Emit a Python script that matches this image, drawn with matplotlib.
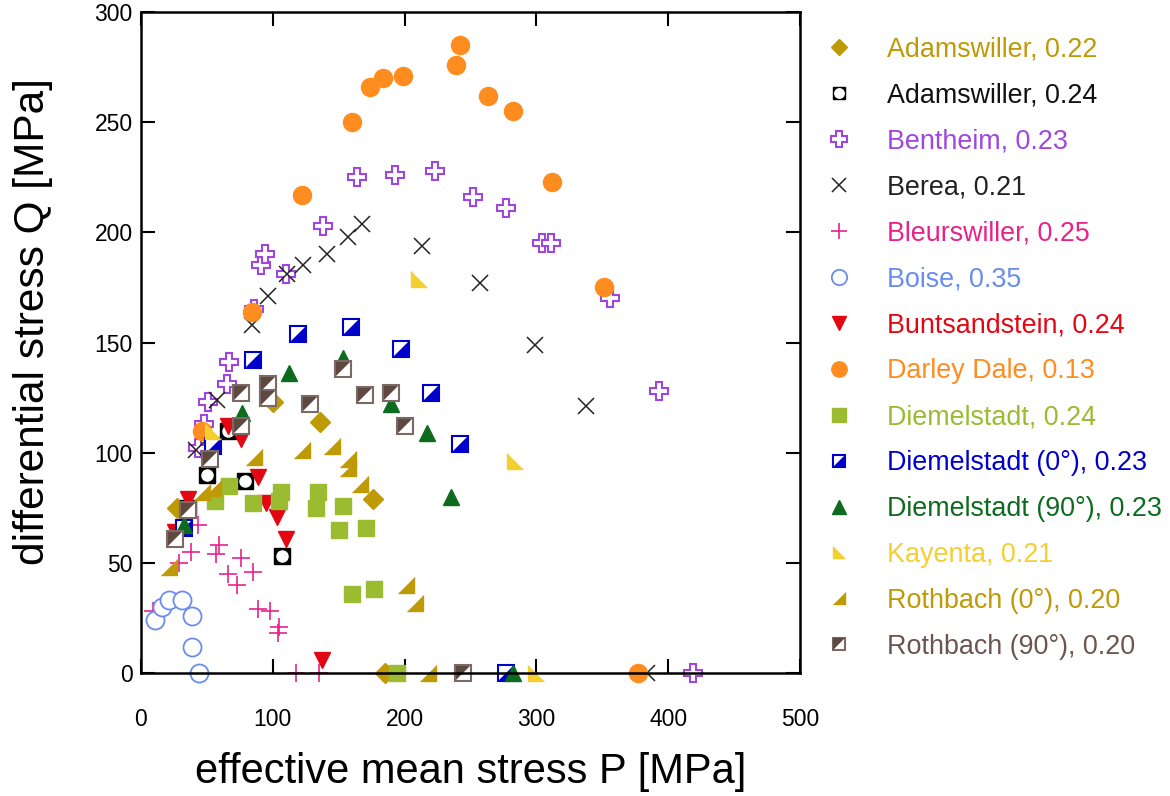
import matplotlib
matplotlib.use('Agg')
import matplotlib.pyplot as plt

plt.rcParams['font.family'] = ['Liberation Sans', 'DejaVu Sans']

# effective mean stress P [MPa] and differential stress Q [MPa] per rock
adam22_p = [27, 100, 136, 176, 185]
adam22_q = [75, 123, 114, 79, 0]
adam24_p = [36, 50, 66, 79, 107]
adam24_q = [75, 90, 110, 87, 53]
benth_p = [43, 48, 51, 65, 67, 86, 91, 94, 110, 138, 164, 193, 223, 252, 277, 304, 311, 356, 393, 419]
benth_q = [102, 113, 123, 131, 141, 165, 185, 190, 181, 203, 225, 226, 228, 216, 211, 195, 195, 170, 128, 0]
berea_p = [42, 58, 84, 96, 111, 123, 141, 157, 168, 213, 257, 299, 338, 384]
berea_q = [101, 124, 158, 171, 181, 185, 190, 198, 204, 194, 177, 149, 121, 0]
bleur_p = [9, 29, 38, 43, 57, 59, 66, 73, 76, 85, 89, 98, 104, 105, 118, 135]
bleur_q = [28, 50, 55, 67, 54, 58, 45, 40, 52, 46, 29, 28, 18, 21, 0, 0]
boise_p = [11, 16, 21, 31, 39, 39, 44]
boise_q = [24, 30, 33, 33, 26, 12, 0]
bunt_p = [26, 36, 54, 66, 76, 89, 95, 103, 110, 137]
bunt_q = [64, 79, 101, 112, 106, 89, 77, 71, 61, 6]
darley_p = [46, 84, 122, 160, 174, 184, 199, 239, 242, 263, 282, 312, 351, 377]
darley_q = [110, 164, 217, 250, 266, 270, 271, 276, 285, 262, 255, 223, 175, 0]
diem_p = [56, 67, 85, 106, 105, 134, 133, 153, 150, 171, 160, 177, 194]
diem_q = [78, 85, 77, 82, 78, 82, 75, 76, 65, 66, 36, 38, 0]
diem0_p = [33, 55, 85, 119, 159, 197, 220, 242, 277]
diem0_q = [66, 103, 142, 154, 157, 147, 127, 104, 0]
diem90_p = [33, 77, 112, 153, 190, 217, 235, 282]
diem90_q = [67, 118, 136, 143, 122, 109, 80, 0]
kay_p = [55, 211, 284, 300]
kay_q = [110, 179, 96, 0]
roth0_p = [21, 46, 55, 86, 122, 145, 157, 157, 166, 201, 208, 218]
roth0_q = [48, 82, 84, 98, 101, 103, 97, 93, 86, 40, 32, 0]
roth90_p = [26, 36, 52, 76, 76, 96, 96, 128, 153, 170, 190, 200, 244]
roth90_q = [61, 74, 97, 112, 127, 131, 125, 122, 138, 126, 127, 112, 0]

labels = ['Adamswiller, 0.22', 'Adamswiller, 0.24', 'Bentheim, 0.23', 'Berea, 0.21',
          'Bleurswiller, 0.25', 'Boise, 0.35', 'Buntsandstein, 0.24', 'Darley Dale, 0.13',
          'Diemelstadt, 0.24', 'Diemelstadt (0°), 0.23', 'Diemelstadt (90°), 0.23',
          'Kayenta, 0.21', 'Rothbach (0°), 0.20', 'Rothbach (90°), 0.20']
colors = ['#BE9A06', '#111111', '#A046E0', '#222222', '#E8228A', '#6A8CF0', '#E30613',
          '#FF8C1E', '#9BBB30', '#0000CC', '#0D6B1F', '#F5CF30', '#BE9A06', '#6B5550']

TRI_LL = [(-1, 1), (-1, -1), (1, -1)]   # Kayenta
TRI_LR = [(1, 1), (1, -1), (-1, -1)]    # Rothbach 0
HALF_LR = [(-1, -1), (1, -1), (1, 1)]
HALF_UL = [(-1, -1), (-1, 1), (1, 1)]

fig = plt.figure(figsize=(11.7, 7.96), dpi=100)
ax = fig.add_axes([0.1205, 0.1545, 0.5632, 0.8304])


def pts(p, q, **kw):
    return ax.plot(p, q, ls='none', clip_on=False, **kw)[0]


def half_square(p, q, c, verts, edge):
    a = pts(p, q, marker='s', ms=11, mfc='white', mec=edge, mew=1.5)
    b = pts(p, q, marker=verts, ms=10.5, mfc=c, mec=c, mew=0)
    return (a, b)


handles = []
handles.append(pts(adam22_p, adam22_q, marker='D', ms=10, mfc=colors[0], mec=colors[0]))
a = pts(adam24_p, adam24_q, marker='s', ms=11, mfc='black', mec='black')
b = pts(adam24_p, adam24_q, marker='o', ms=8, mfc='white', mec='white')
handles.append((a, b))
handles.append(pts(benth_p, benth_q, marker='P', ms=13, mfc='white', mec=colors[2], mew=1.5))
handles.append(pts(berea_p, berea_q, marker='x', ms=12, mec=colors[3], mew=1.1))
handles.append(pts(bleur_p, bleur_q, marker='+', ms=13, mec=colors[4], mew=1.2))
handles.append(pts(boise_p, boise_q, marker='o', ms=13, mfc='white', mec=colors[5], mew=1.3))
handles.append(pts(bunt_p, bunt_q, marker='v', ms=12, mfc=colors[6], mec=colors[6]))
handles.append(pts(darley_p, darley_q, marker='o', ms=13, mfc=colors[7], mec=colors[7]))
handles.append(pts(diem_p, diem_q, marker='s', ms=12, mfc=colors[8], mec=colors[8]))
handles.append(half_square(diem0_p, diem0_q, colors[9], HALF_LR, colors[9]))
handles.append(pts(diem90_p, diem90_q, marker='^', ms=12, mfc=colors[10], mec=colors[10]))
handles.append(pts(kay_p, kay_q, marker=TRI_LL, ms=11, mfc=colors[11], mec=colors[11]))
handles.append(pts(roth0_p, roth0_q, marker=TRI_LR, ms=11, mfc=colors[12], mec=colors[12]))
handles.append(half_square(roth90_p, roth90_q, '#5E4840', HALF_UL, '#7A6A66'))

ax.set_xlim(0, 500)
ax.set_ylim(0, 300)
ax.set_xticks(range(0, 501, 100))
ax.set_yticks(range(0, 301, 50))
ax.tick_params(direction='in', length=10, width=1.5, top=True, right=True, labelsize=16.5)
ax.tick_params(axis='x', pad=25)
ax.tick_params(axis='y', pad=6)
for s in ax.spines.values():
    s.set_linewidth(1.8)
ax.set_xlabel('effective mean stress P [MPa]', fontsize=30, labelpad=15)
ax.set_ylabel('differential stress Q [MPa]', fontsize=30.5)
ax.yaxis.set_label_coords(-0.133, 0.531)

leg = fig.legend(handles, labels, loc='upper left', bbox_to_anchor=(0.694, 0.971),
                 frameon=False, fontsize=19.4, labelspacing=0.74, handlelength=1.0,
                 handletextpad=1.3, borderpad=0, markerscale=0.85)
for t, c in zip(leg.get_texts(), colors):
    t.set_color(c)

fig.savefig('out.png', dpi=100)
